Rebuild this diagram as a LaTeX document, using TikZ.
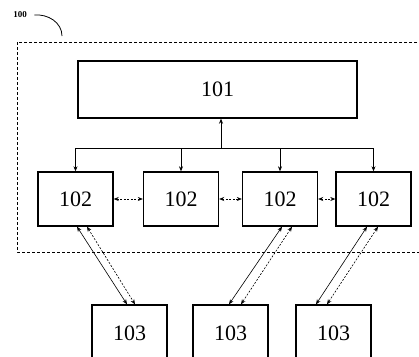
\documentclass[tikz,border=0pt]{standalone}
\usepackage{fontspec}
\setmainfont{Liberation Serif}
\usetikzlibrary{arrows.meta,positioning}

\begin{document}
\begin{tikzpicture}[x=1pt, y=-1pt,
  font=\fontsize{22}{25}\selectfont,
  blk/.style={draw, line width=1.4pt, minimum width=75pt, minimum height=54pt, inner sep=0pt},
  arr/.style={-{Stealth[length=5pt,width=4pt]}, line width=0.6pt},
  darr/.style={{Stealth[length=5pt,width=4pt]}-{Stealth[length=5pt,width=4pt]}, line width=0.6pt},
  dotline/.style={dash pattern=on 2pt off 1.5pt}
]
\useasboundingbox (0,0) rectangle (419,356);

% outer frame and its label
\draw[line width=0.7pt, dash pattern=on 3pt off 2pt] (17,42) rectangle (432,252);
\node[font=\bfseries\fontsize{9}{10}\selectfont] (lbl) at (20,15) {100};
\coordinate (hook) at (62,36);
\draw[line width=0.8pt] ([xshift=4pt]lbl.east) to[out=5, in=90] (hook);

\node[blk, minimum width=279pt, minimum height=57pt] (top) at (217.5,89.5) {101};

\node[blk] (b1) at (75.5,199) {102};
\node[blk] (b2) at (181,199) {102};
\node[blk] (b3) at (280,199) {102};
\node[blk] (b4) at (373.5,199) {102};

\node[blk, minimum height=56pt] (c1) at (129.5,333) {103};
\node[blk, minimum height=56pt] (c2) at (230.5,333) {103};
\node[blk, minimum height=56pt] (c3) at (333.5,333) {103};

% bus from 101 down to the 102 blocks
\coordinate (bus) at (221,148);
\draw[arr] (bus) -- (top.south -| bus);
\draw[line width=0.6pt] (b1.north |- bus) -- (b4.north |- bus);
\foreach \b in {b1,b2,b3,b4}
  \draw[arr] (\b.north |- bus) -- (\b.north);

% links between neighbours
\draw[darr, dotline] (b1) -- (b2);
\draw[darr, dotline] (b2) -- (b3);
\draw[darr, dotline] (b3) -- (b4);

% links to the 103 blocks
\draw[darr] ([xshift=1.5pt]b1.south) -- ([xshift=-2.5pt]c1.north);
\draw[darr, dotline] ([xshift=11.5pt]b1.south) -- ([xshift=5.5pt]c1.north);
\draw[darr] ([xshift=2pt]b3.south) -- ([xshift=-1.5pt]c2.north);
\draw[darr, dotline] ([xshift=12pt]b3.south) -- ([xshift=10.5pt]c2.north);
\draw[darr] ([xshift=-6.5pt]b4.south) -- ([xshift=-17.5pt]c3.north);
\draw[darr, dotline] ([xshift=4.5pt]b4.south) -- ([xshift=-6.5pt]c3.north);
\end{tikzpicture}
\end{document}
